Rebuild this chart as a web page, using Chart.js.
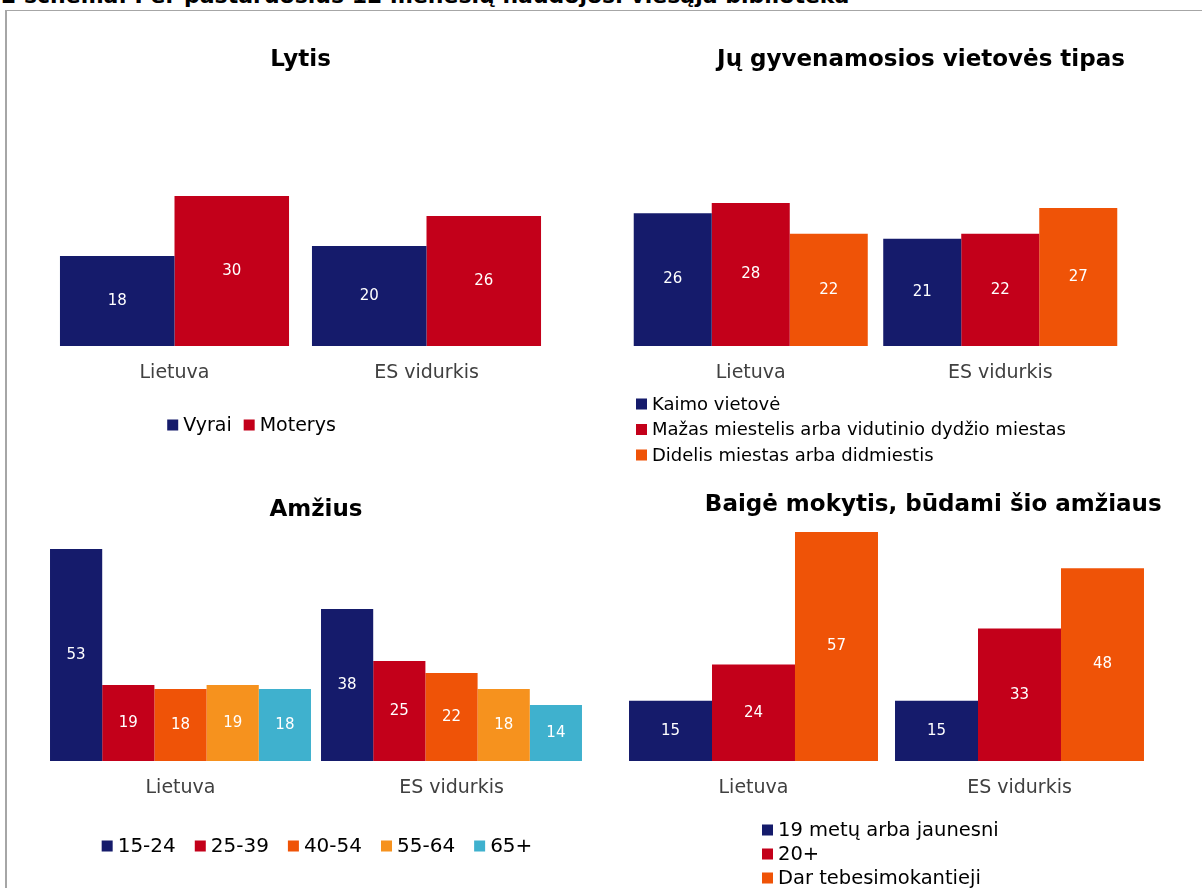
<!DOCTYPE html>
<html lang="lt">
<head>
<meta charset="utf-8">
<title>Viešosios bibliotekos lankytojai</title>
<script src="https://cdn.jsdelivr.net/npm/chart.js@4.4.1/dist/chart.umd.min.js"></script>
<style>
  html, body { margin: 0; padding: 0; background: #fff; }
  body { width: 1202px; height: 888px; overflow: hidden; position: relative; font-family: "DejaVu Sans", Verdana, sans-serif; }
  .header { position: absolute; left: 1px; top: -15px; font-size: 22px; line-height: 22px; font-weight: bold; color: #000; white-space: nowrap; }
  .frame { position: absolute; left: 5px; top: 10px; width: 1300px; height: 1000px; border-left: 2px solid #a6a6a6; border-top: 1px solid #a6a6a6; }
  canvas { position: absolute; }
</style>
</head>
<body>
<div class="header">2 schema. Per pastaruosius 12 mėnesių naudojosi viešąja biblioteka</div>
<div class="frame"></div>
<canvas id="lytis" width="600" height="470" style="left:0px;top:0px"></canvas>
<canvas id="vietove" width="616" height="475" style="left:600px;top:0px"></canvas>
<canvas id="amzius" width="600" height="418" style="left:0px;top:470px"></canvas>
<canvas id="mokslas" width="646" height="418" style="left:600px;top:470px"></canvas>
<script>
// data
var groups = ['Lietuva', 'ES vidurkis'];

var lytisTitle = 'Lytis';
var lytisSeries = ['Vyrai', 'Moterys'];
var lytisValues = [[18, 20], [30, 26]];

var vietoveTitle = 'Jų gyvenamosios vietovės tipas';
var vietoveSeries = ['Kaimo vietovė', 'Mažas miestelis arba vidutinio dydžio miestas', 'Didelis miestas arba didmiestis'];
var vietoveValues = [[26, 21], [28, 22], [22, 27]];

var amziusTitle = 'Amžius';
var amziusSeries = ['15-24', '25-39', '40-54', '55-64', '65+'];
var amziusValues = [[53, 38], [19, 25], [18, 22], [19, 18], [18, 14]];

var mokslasTitle = 'Baigė mokytis, būdami šio amžiaus';
var mokslasSeries = ['19 metų arba jaunesni', '20+', 'Dar tebesimokantieji'];
var mokslasValues = [[15, 15], [24, 33], [57, 48]];

var palette = ['#151b6b', '#c3001a', '#ef5307', '#f6921e', '#3fb1ce'];
var fontFamily = '"DejaVu Sans", Verdana, sans-serif';

// white numbers in the middle of each bar
var valueLabels = {
    id: 'valueLabels',
    afterDatasetsDraw: function(chart) {
        var ctx = chart.ctx;
        ctx.save();
        ctx.fillStyle = '#ffffff';
        ctx.font = '15px ' + fontFamily;
        ctx.textAlign = 'center';
        ctx.textBaseline = 'middle';
        chart.data.datasets.forEach(function(ds, i) {
            chart.getDatasetMeta(i).data.forEach(function(bar, j) {
                ctx.fillText(ds.data[j], bar.x, (bar.y + bar.base) / 2);
            });
        });
        ctx.restore();
    }
};

// small square legend, either one row or a list
var boxLegend = {
    id: 'boxLegend',
    afterDraw: function(chart, args, opts) {
        var ctx = chart.ctx;
        var box = 11, gap = 5, spacing = opts.spacing || 12;
        ctx.save();
        ctx.font = opts.size + 'px ' + fontFamily;
        ctx.textBaseline = 'middle';
        ctx.textAlign = 'left';
        var items = chart.data.datasets.map(function(ds) {
            return { text: ds.label, color: ds.backgroundColor };
        });
        function drawItem(it, x, y) {
            ctx.fillStyle = it.color;
            ctx.fillRect(x, y - box / 2, box, box);
            ctx.fillStyle = '#000000';
            ctx.fillText(it.text, x + box + gap, y + 1);
        }
        if (opts.layout === 'row') {
            var widths = items.map(function(it) { return box + gap + ctx.measureText(it.text).width; });
            var total = widths.reduce(function(a, b) { return a + b; }, 0) + spacing * (items.length - 1);
            var x = opts.x - total / 2;
            items.forEach(function(it, i) {
                drawItem(it, x, opts.y);
                x += widths[i] + spacing;
            });
        } else {
            items.forEach(function(it, i) {
                drawItem(it, opts.x, opts.y + i * opts.step);
            });
        }
        ctx.restore();
    }
};

function makeChart(id, cfg) {
    var scales = {
        x: {
            grid: { display: false },
            border: { display: false },
            ticks: { color: '#404040', padding: 8, font: { family: fontFamily, size: 19 } }
        },
        y: { display: false, min: 0, max: cfg.max }
    };
    if (cfg.spacer) {
        scales.spacer = {
            type: 'linear',
            position: 'right',
            grid: { display: false },
            border: { display: false },
            ticks: { display: false },
            afterFit: function(s) { s.width = cfg.spacer; }
        };
    }
    return new Chart(document.getElementById(id), {
        type: 'bar',
        data: {
            labels: groups,
            datasets: cfg.series.map(function(name, i) {
                return {
                    label: name,
                    data: cfg.values[i],
                    backgroundColor: palette[i],
                    borderWidth: 0,
                    categoryPercentage: cfg.catPct,
                    barPercentage: 1
                };
            })
        },
        options: {
            responsive: false,
            animation: false,
            layout: { padding: cfg.padding },
            plugins: {
                legend: { display: false },
                tooltip: { enabled: false },
                title: {
                    display: true,
                    text: cfg.title,
                    color: '#000000',
                    font: { family: fontFamily, size: 23, weight: 'bold', lineHeight: 1.2 },
                    padding: cfg.titlePad
                },
                boxLegend: cfg.legend
            },
            scales: scales
        },
        plugins: [valueLabels, boxLegend]
    });
}

makeChart('lytis', {
    title: lytisTitle, series: lytisSeries, values: lytisValues, max: 30, catPct: 0.909,
    padding: { left: 48.5, right: 47.5, top: 0, bottom: 77.2 },
    titlePad: { top: 46.2, bottom: 122.2 },
    legend: { layout: 'row', x: 251.5, y: 425, size: 19, spacing: 12 }
});

makeChart('vietove', {
    title: vietoveTitle, series: vietoveSeries, values: vietoveValues, max: 28, catPct: 0.938,
    padding: { left: 26, right: 0, top: 0, bottom: 82.2 }, spacer: 91,
    titlePad: { top: 46.2, bottom: 129.2 },
    legend: { layout: 'list', x: 36, y: 404, step: 25.5, size: 18 }
});

makeChart('amzius', {
    title: amziusTitle, series: amziusSeries, values: amziusValues, max: 53, catPct: 0.963,
    padding: { left: 45, right: 13, top: 0, bottom: 80.2 },
    titlePad: { top: 26.2, bottom: 25.2 },
    legend: { layout: 'row', x: 317, y: 376, size: 20, spacing: 19 }
});

makeChart('mokslas', {
    title: mokslasTitle, series: mokslasSeries, values: mokslasValues, max: 57, catPct: 0.936,
    padding: { left: 20.5, right: 0, top: 0, bottom: 80.2 }, spacer: 93.5,
    titlePad: { top: 21.2, bottom: 13.2 },
    legend: { layout: 'list', x: 162, y: 360, step: 24, size: 19.5 }
});
</script>
</body>
</html>
